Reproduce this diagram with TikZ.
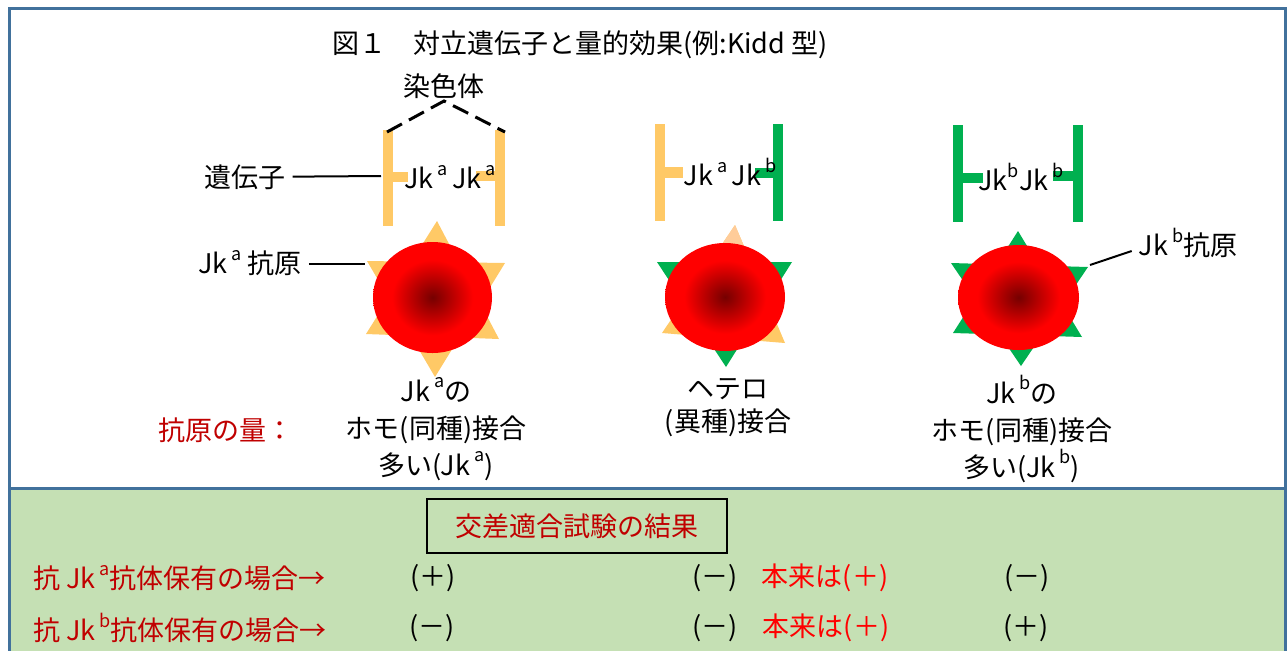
\documentclass[tikz,border=0pt]{standalone}
\usepackage{fontspec}
\setmainfont{Noto Sans CJK JP}
\usetikzlibrary{positioning,shapes.geometric}

\definecolor{jka}{HTML}{FFC966}
\definecolor{jkpeach}{HTML}{FFCC99}
\definecolor{jkb}{HTML}{00B050}
\definecolor{framec}{HTML}{41719C}
\definecolor{panel}{HTML}{C5E0B4}
\definecolor{resred}{HTML}{C00000}

% red cell: dark core fading to red
\pgfdeclareradialshading{cellshade}{\pgfpoint{0bp}{0bp}}%
  {rgb(0bp)=(0.46,0,0); rgb(17bp)=(1,0,0); rgb(50bp)=(1,0,0)}

\newcommand{\jk}[1]{Jk\kern2pt\raisebox{.5em}{\fontsize{9}{9}\selectfont #1}}

\tikzset{
  cellnode/.style={ellipse, shade, shading=cellshade, inner sep=0pt,
    minimum width=60pt, minimum height=55pt},
  chromoline/.style={line width=1.5pt, dash pattern=on 8.5pt off 4pt},
  lbl/.style={align=center, font=\fontsize{13.5}{18.5}\selectfont},
  pm/.style={text=black}
}

\begin{document}
\begin{tikzpicture}[x=0.5pt,y=-0.5pt,font=\fontsize{13.5}{16}\selectfont]
\useasboundingbox (0,0) rectangle (1287,650);

% frame and result panel
\fill[white] (9,8) rectangle (1285,488);
\fill[panel] (9,488) rectangle (1285,652);
\draw[framec, line width=1.5pt] (9,652) -- (9,8) -- (1285,8) -- (1285,652);
\draw[framec, line width=1.5pt] (9,488) -- (1285,488);

\node (title) at (580,45) {図１　対立遺伝子と量的効果(例:Kidd 型)};

% chromosomes
\fill[jka] (383,130) rectangle (393,226);
\fill[jka] (393,172) rectangle (408,182);
\fill[jka] (495,130) rectangle (505,226);
\fill[jka] (476,171) rectangle (495,181);

\fill[jka] (655,124) rectangle (665,221);
\fill[jka] (665,167) rectangle (683,178);
\fill[jkb] (773,124) rectangle (783,221);
\fill[jkb] (755,168) rectangle (773,178);

\fill[jkb] (953,125) rectangle (963,222);
\fill[jkb] (963,173) rectangle (983,183);
\fill[jkb] (1073,125) rectangle (1083,222);
\fill[jkb] (1053,171) rectangle (1073,181);

\node (pair1) at (450,177) {\jk{a}\,\jk{a}};
\node (pair2) at (730,172) {\jk{a}\,\jk{b}};
\node (pair3) at (1021,177) {Jk\raisebox{.5em}{\fontsize{9}{9}\selectfont b}Jk\kern2pt\raisebox{.5em}{\fontsize{9}{9}\selectfont b}};

\coordinate (top1) at (387,132);
\coordinate (top2) at (505,132);
\coordinate (apex) at (444,101);
\node[inner sep=1pt, above=0pt of apex] (sen) {染色体};
\draw[chromoline] (top1) -- (apex) -- (top2);

\node (gene) at (245,177) {遺伝子};
\coordinate (g1) at (381,176);
\draw[line width=1pt] (gene) -- (g1);

% antigens (star behind each cell)
\fill[jka] (437,221) -- (366,334) -- (499,339) -- cycle;
\fill[jka] (367,261) -- (505,263) -- (435,377) -- cycle;

\fill[jka] (735,225) -- (662,333) -- (785,343) -- cycle;
\begin{scope}
  \clip (640,210) rectangle (800,252);
  \fill[jkpeach] (735,225) -- (662,333) -- (785,343) -- cycle;
\end{scope}
\fill[jkb] (657,262) -- (792,262) -- (726,367) -- cycle;

\fill[jkb] (1018,231) -- (953,333) -- (1082,337) -- cycle;
\fill[jkb] (951,263) -- (1088,267) -- (1021,366) -- cycle;

\node[cellnode, minimum width=59.5pt, minimum height=55.5pt] (cell1) at (432.5,297.5) {};
\node[cellnode, minimum height=54pt] (cell2) at (725,297) {};
\node[cellnode, minimum width=60.5pt, minimum height=52.5pt] (cell3) at (1018.5,297.5) {};

\node (aga) at (250,263) {\jk{a}\ 抗原};
\coordinate (ka) at (365,264);
\draw[line width=1pt] (aga.east |- ka) -- (ka);

\node (agb) at (1188,243) {\jk{b}抗原};
\coordinate (kb) at (1090,265);
\draw[line width=1pt] (kb) -- ([yshift=-4pt]agb.west);

% genotype labels
\node[text=resred] (amount) at (226,430) {抗原の量：};
\node[lbl] (txt1) at (436,429) {\jk{a}の\\ホモ(同種)接合\\多い(\jk{a})};
\node[lbl, font=\fontsize{13.5}{16.5}\selectfont] (txt2) at (728,408) {ヘテロ\\(異種)接合};
\node[lbl] (txt3) at (1022,429) {\jk{b}の\\ホモ(同種)接合\\多い(\jk{b})};

% cross-match results
\node[draw=black, line width=1pt, text=resred, minimum width=150pt,
  minimum height=27pt] (result) at (577,526) {交差適合試験の結果};

\node[text=resred, anchor=west] (row1) at (26,578) {抗 \jk{a}抗体保有の場合→};
\node[pm] (r1c1) at (433,578) {(＋)};
\node[pm] (r1c2) at (715,578) {(－)};
\node[text=red] (r1n) at (825,578) {本来は(＋)};
\node[pm] (r1c3) at (1027,578) {(－)};

\node[text=resred, anchor=west] (row2) at (26,628) {抗 \jk{b}抗体保有の場合→};
\node[pm] (r2c1) at (432,628) {(－)};
\node[pm] (r2c2) at (715,628) {(－)};
\node[text=red] (r2n) at (826,628) {本来は(＋)};
\node[pm] (r2c3) at (1026,628) {(＋)};

\end{tikzpicture}
\end{document}
